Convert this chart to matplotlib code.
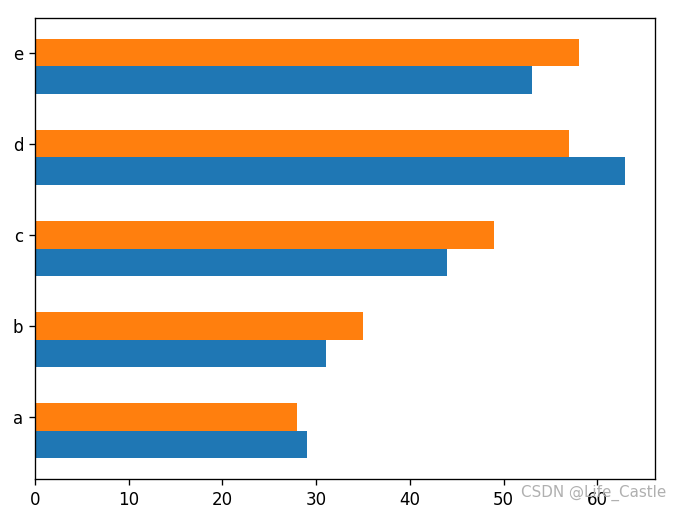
import numpy as np
import matplotlib
matplotlib.use('Agg')
import matplotlib.pyplot as plt

categories = ['a', 'b', 'c', 'd', 'e']
series1 = [29, 31, 44, 63, 53]
series2 = [28, 35, 49, 57, 58]

dpi = 120
fig = plt.figure(figsize=(681/dpi, 511/dpi), dpi=dpi)
ax = fig.add_subplot(111)

y = np.arange(len(categories))
h = 0.3
ax.barh(y - h, series1, height=h, color='C0')
ax.barh(y, series2, height=h, color='C1')
ax.set_yticks(y)
ax.set_yticklabels(categories)
ax.set_xticks([0, 10, 20, 30, 40, 50, 60])

fig.subplots_adjust(left=35/681, right=655/681, top=1-18/511, bottom=1-479/511)

fig.text(666/681, 1-493/511, 'CSDN @Life_Castle', ha='right', va='center',
         color='#b0b0b0', fontsize=9.1)

plt.savefig('out.png', dpi=dpi)
